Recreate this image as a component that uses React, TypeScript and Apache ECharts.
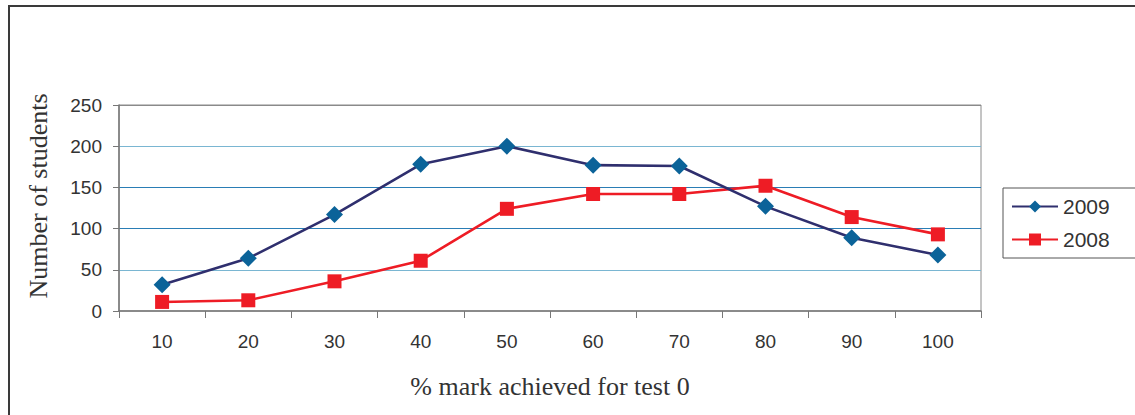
import React, { useEffect, useRef } from "react";
import * as echarts from "echarts";

const categories = ["10", "20", "30", "40", "50", "60", "70", "80", "90", "100"];
const series2009 = [32, 64, 117, 178, 200, 177, 176, 127, 89, 68];
const series2008 = [11, 13, 36, 61, 124, 142, 142, 152, 114, 93];
const seriesNames = ["2009", "2008"];
const yTicks = { min: 0, max: 250, interval: 50 };
const xAxisTitle = "% mark achieved for test 0";
const yAxisTitle = "Number of students";

export default function App() {
  const ref = useRef<HTMLDivElement>(null);
  useEffect(() => {
    document.body.style.margin = "0";
    if (!ref.current) return;
    const chart = echarts.init(ref.current, undefined, { renderer: "svg" });
    chart.setOption({
      animation: false,
      backgroundColor: "#ffffff",
      textStyle: { fontFamily: "Liberation Sans" },
      graphic: [
        {
          type: "rect",
          shape: { x: 9, y: 6, width: 2000, height: 1000 },
          style: { fill: "none", stroke: "#3a3a3a", lineWidth: 2 },
          silent: true,
        },
      ],
      grid: {
        left: 119,
        top: 105,
        right: 154,
        bottom: 104,
        show: true,
        borderColor: "#8a8a8a",
        borderWidth: 1,
        containLabel: false,
      },
      legend: {
        orient: "vertical",
        left: 1003,
        top: 188,
        data: seriesNames,
        itemWidth: 46,
        itemHeight: 15,
        itemGap: 12,
        padding: [8, 80, 8, 8],
        borderColor: "#555",
        borderWidth: 1,
        textStyle: { fontSize: 21, color: "#333", fontFamily: "Liberation Sans", padding: [0, 0, 0, 0] },
      },
      xAxis: {
        type: "category",
        data: categories,
        boundaryGap: true,
        name: xAxisTitle,
        nameLocation: "middle",
        nameGap: 62,
        nameTextStyle: { fontFamily: "Liberation Serif", fontSize: 26, color: "#333" },
        axisLine: { lineStyle: { color: "#777", width: 1.5 } },
        axisTick: { show: true, length: 7, alignWithLabel: false, lineStyle: { color: "#777" } },
        axisLabel: { fontSize: 19, color: "#333", margin: 21, fontFamily: "Liberation Sans" },
        splitLine: { show: false },
      },
      yAxis: {
        type: "value",
        min: yTicks.min,
        max: yTicks.max,
        interval: yTicks.interval,
        name: yAxisTitle,
        nameLocation: "middle",
        nameGap: 68,
        nameTextStyle: {
          fontFamily: "Liberation Serif",
          fontSize: 26,
          color: "#333",
          padding: [0, 0, 0, 24],
        },
        axisLine: { show: true, lineStyle: { color: "#777", width: 1.5 } },
        axisTick: { show: true, length: 6, lineStyle: { color: "#777" } },
        axisLabel: { fontSize: 19, color: "#333", margin: 17, fontFamily: "Liberation Sans" },
        splitLine: {
          show: true,
          lineStyle: {
            color: ["transparent", "#7ab6d2", "#2a7db5", "#2a7db5", "#7ab6d2", "#8a8a8a"],
            width: 1.2,
          },
        },
      },
      series: [
        {
          name: seriesNames[0],
          type: "line",
          data: series2009,
          symbol: "diamond",
          symbolSize: 17,
          lineStyle: { color: "#2f2f6e", width: 2.6 },
          itemStyle: { color: "#0b6399" },
          z: 3,
        },
        {
          name: seriesNames[1],
          type: "line",
          data: series2008,
          symbol: "rect",
          symbolSize: 14,
          lineStyle: { color: "#ee1c25", width: 2.6 },
          itemStyle: { color: "#ee1c25" },
          z: 2,
        },
      ],
    });
    return () => chart.dispose();
  }, []);
  return <div ref={ref} style={{ width: 1135, height: 415 }} />;
}
